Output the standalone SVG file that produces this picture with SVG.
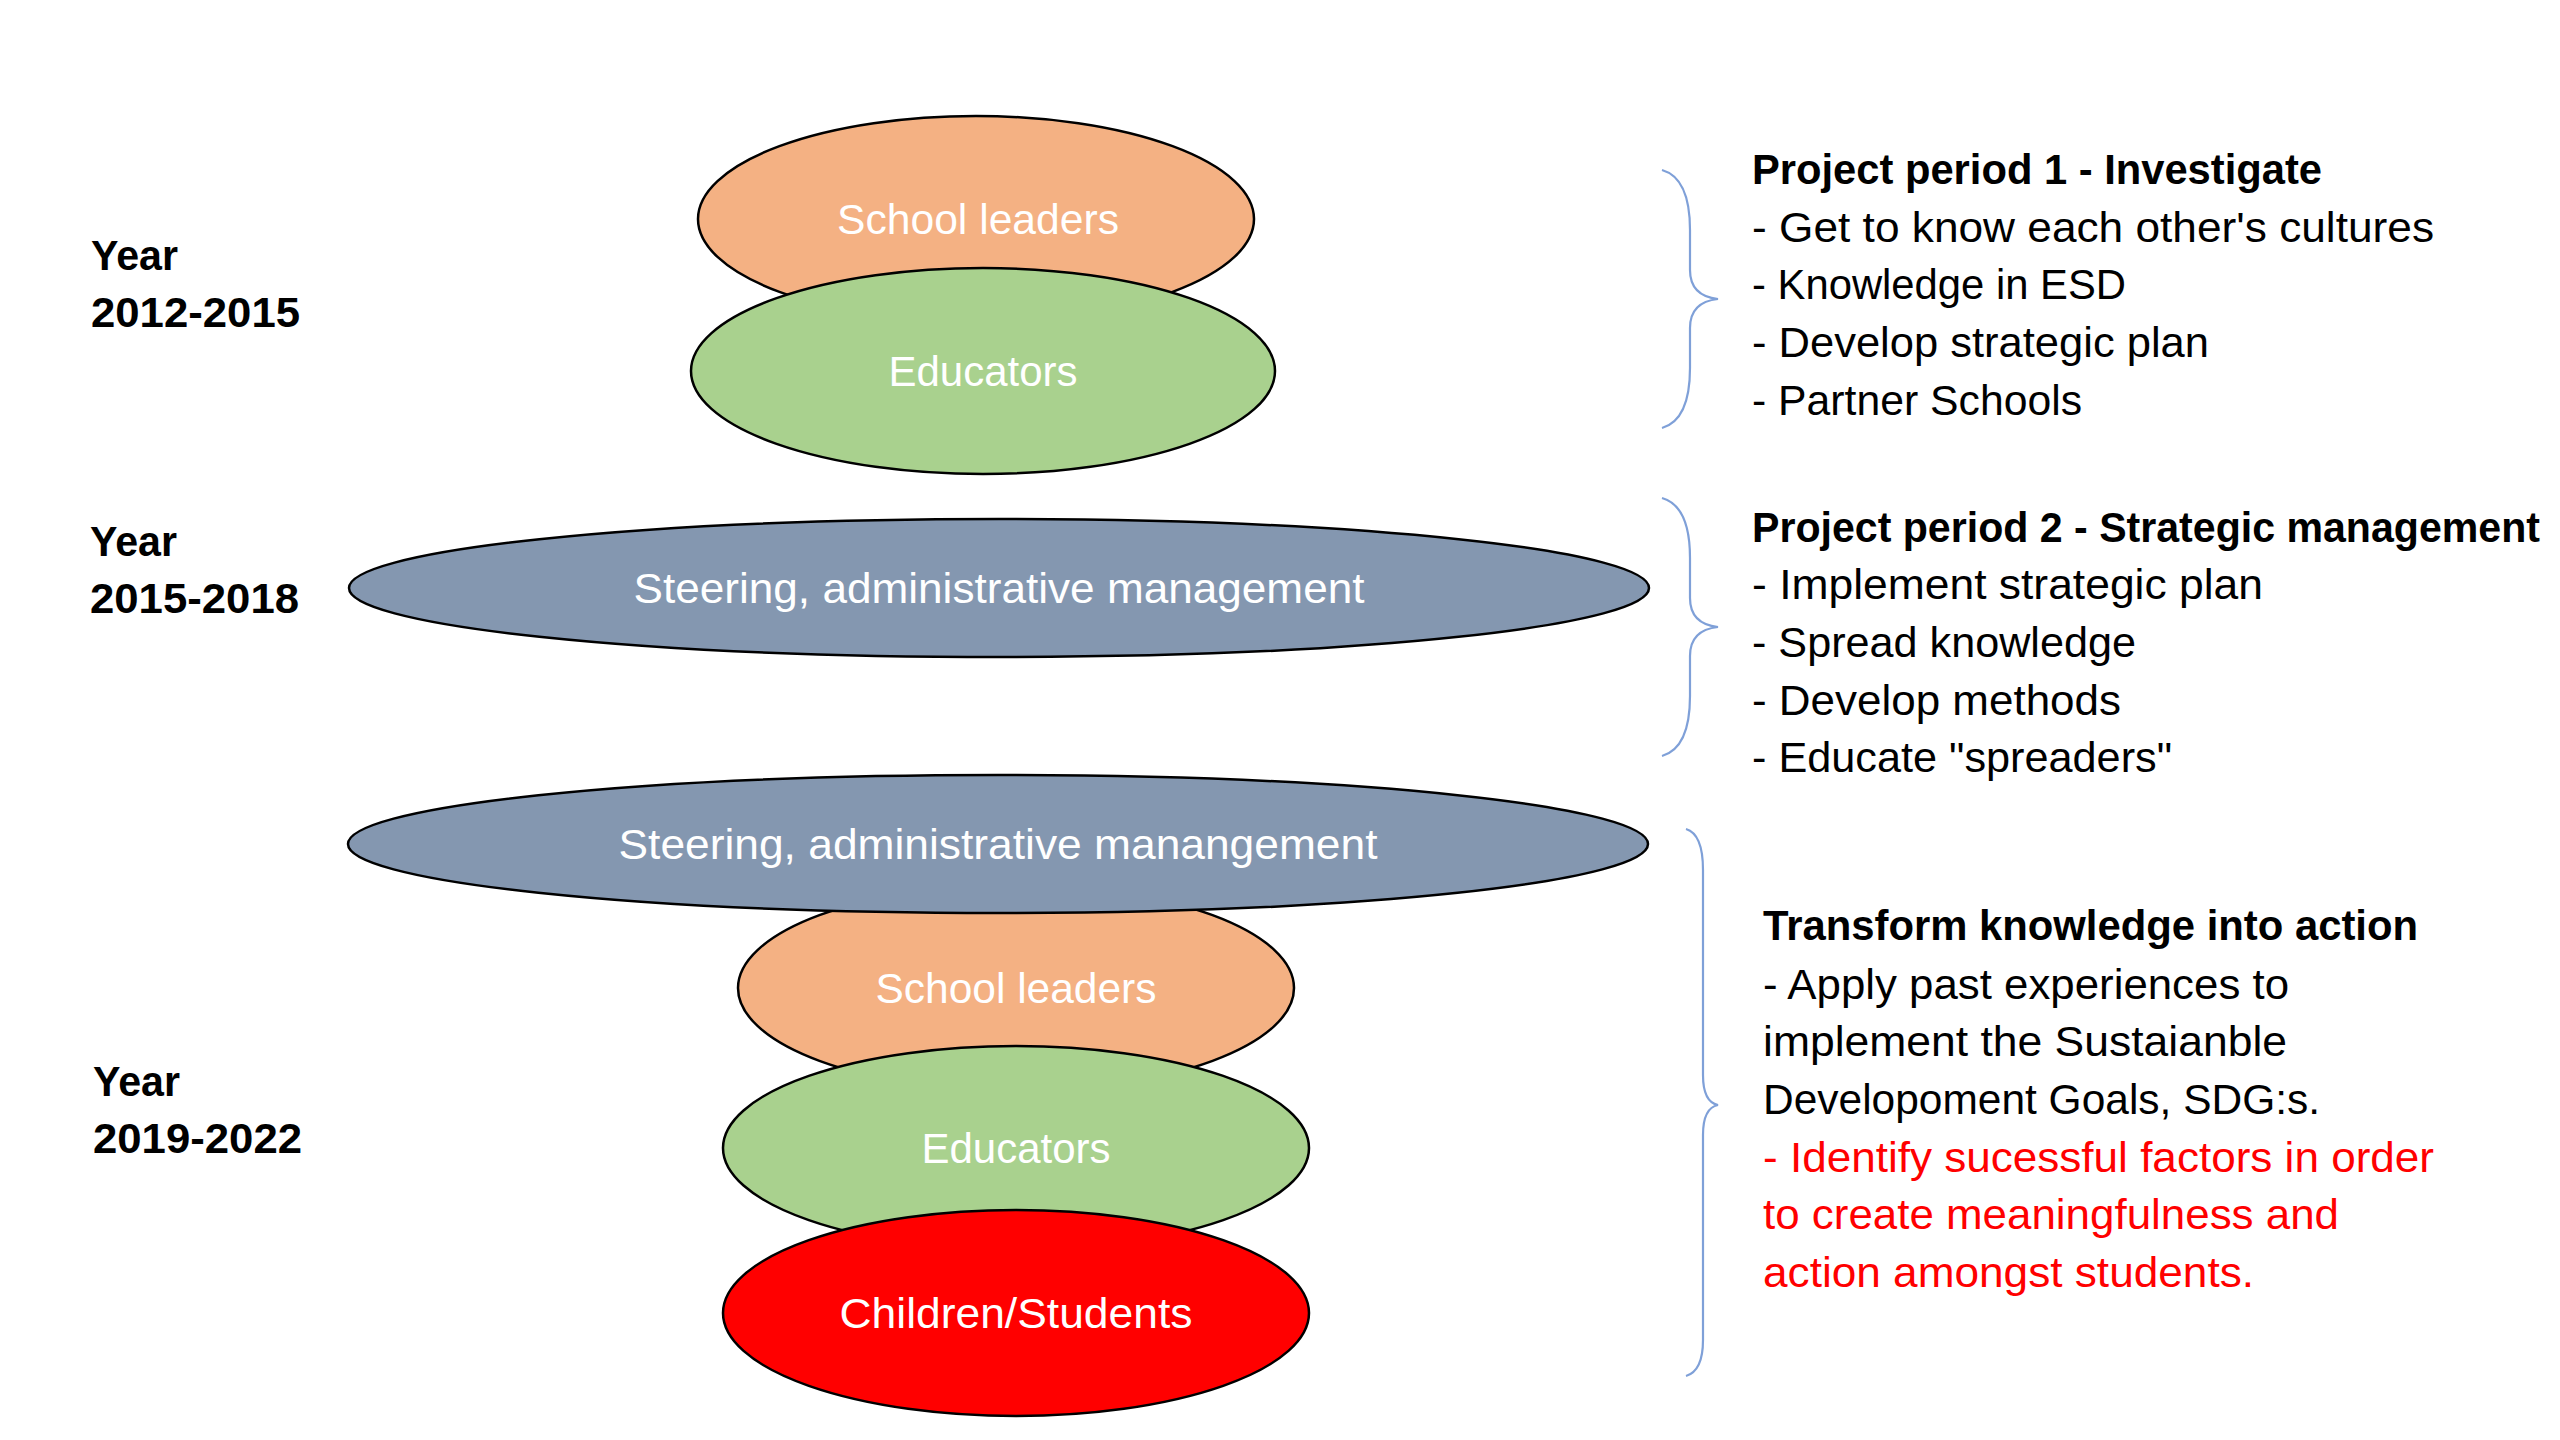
<svg xmlns="http://www.w3.org/2000/svg" width="2560" height="1440" viewBox="0 0 2560 1440">
<style>
text{font-family:"Liberation Sans",Arial,sans-serif;font-size:43px}
.lbl{fill:#ffffff;text-anchor:middle}
.yr{font-weight:bold;fill:#000}
.b{font-weight:bold;fill:#000}
.t{fill:#000}
.r{fill:#ff0000}
.e{stroke:#000;stroke-width:2.5}
.orange{fill:#F4B183}
.green{fill:#A9D18E}
.slate{fill:#8497B0}
.red{fill:#FF0000}
.brace{fill:none;stroke:#7FA0D8;stroke-width:2.2}
</style>
<rect width="2560" height="1440" fill="#fff"/>
<g id="year1"><text class="yr" x="91" y="270" textLength="87" lengthAdjust="spacingAndGlyphs">Year</text><text class="yr" x="91" y="327" textLength="209" lengthAdjust="spacingAndGlyphs">2012-2015</text></g>
<g id="year2"><text class="yr" x="90" y="556" textLength="87" lengthAdjust="spacingAndGlyphs">Year</text><text class="yr" x="90" y="613" textLength="209" lengthAdjust="spacingAndGlyphs">2015-2018</text></g>
<g id="year3"><text class="yr" x="93" y="1096" textLength="87" lengthAdjust="spacingAndGlyphs">Year</text><text class="yr" x="93" y="1153" textLength="209" lengthAdjust="spacingAndGlyphs">2019-2022</text></g>

<g id="school-leaders-1"><ellipse class="e orange" cx="976" cy="219" rx="278" ry="103"/><text class="lbl" x="978" y="234" textLength="282" lengthAdjust="spacingAndGlyphs">School leaders</text></g>
<g id="educators-1"><ellipse class="e green" cx="983" cy="371" rx="292" ry="103"/><text class="lbl" x="983" y="386" textLength="189" lengthAdjust="spacingAndGlyphs">Educators</text></g>
<g id="steering-1"><ellipse class="e slate" cx="999" cy="588" rx="650" ry="69"/><text class="lbl" x="999" y="603" textLength="731" lengthAdjust="spacingAndGlyphs">Steering, administrative management</text></g>
<g id="school-leaders-2"><ellipse class="e orange" cx="1016" cy="988" rx="278" ry="103"/><text class="lbl" x="1016" y="1003" textLength="281" lengthAdjust="spacingAndGlyphs">School leaders</text></g>
<g id="educators-2"><ellipse class="e green" cx="1016" cy="1148" rx="293" ry="102"/><text class="lbl" x="1016" y="1163" textLength="189" lengthAdjust="spacingAndGlyphs">Educators</text></g>
<g id="children"><ellipse class="e red" cx="1016" cy="1313" rx="293" ry="103"/><text class="lbl" x="1016" y="1328" textLength="353" lengthAdjust="spacingAndGlyphs">Children/Students</text></g>
<g id="steering-2"><ellipse class="e slate" cx="998" cy="844" rx="650" ry="69"/><text class="lbl" x="998" y="859" textLength="759" lengthAdjust="spacingAndGlyphs">Steering, administrative manangement</text></g>

<g id="connectors">
<path class="brace" d="M1662,170 Q1690,178 1690,230 L1690,270 Q1690,296 1718,299 Q1690,302 1690,328 L1690,368 Q1690,420 1662,428"/>
<path class="brace" d="M1662,498 Q1690,506 1690,558 L1690,598 Q1690,624 1718,627 Q1690,630 1690,656 L1690,696 Q1690,748 1662,756"/>
<path class="brace" d="M1686,829 Q1703,834 1703,870 L1703,1075 Q1703,1102 1718,1105 Q1703,1108 1703,1135 L1703,1340 Q1703,1371 1686,1376"/>
</g>

<g id="period1">
<text class="b" x="1752" y="184" textLength="570" lengthAdjust="spacingAndGlyphs">Project period 1 - Investigate</text>
<text class="t" x="1752" y="242" textLength="682" lengthAdjust="spacingAndGlyphs">- Get to know each other's cultures</text>
<text class="t" x="1752" y="299" textLength="374" lengthAdjust="spacingAndGlyphs">- Knowledge in ESD</text>
<text class="t" x="1752" y="357" textLength="457" lengthAdjust="spacingAndGlyphs">- Develop strategic plan</text>
<text class="t" x="1752" y="415" textLength="330" lengthAdjust="spacingAndGlyphs">- Partner Schools</text>
</g>
<g id="period2">
<text class="b" x="1752" y="542" textLength="788" lengthAdjust="spacingAndGlyphs">Project period 2 - Strategic management</text>
<text class="t" x="1752" y="599" textLength="511" lengthAdjust="spacingAndGlyphs">- Implement strategic plan</text>
<text class="t" x="1752" y="657" textLength="384" lengthAdjust="spacingAndGlyphs">- Spread knowledge</text>
<text class="t" x="1752" y="715" textLength="369" lengthAdjust="spacingAndGlyphs">- Develop methods</text>
<text class="t" x="1752" y="772" textLength="420" lengthAdjust="spacingAndGlyphs">- Educate "spreaders"</text>
</g>
<g id="period3">
<text class="b" x="1763" y="940" textLength="655" lengthAdjust="spacingAndGlyphs">Transform knowledge into action</text>
<text class="t" x="1763" y="999" textLength="526" lengthAdjust="spacingAndGlyphs">- Apply past experiences to</text>
<text class="t" x="1763" y="1056" textLength="524" lengthAdjust="spacingAndGlyphs">implement the Sustaianble</text>
<text class="t" x="1763" y="1114" textLength="557" lengthAdjust="spacingAndGlyphs">Developoment Goals, SDG:s.</text>
<text class="r" x="1763" y="1172" textLength="671" lengthAdjust="spacingAndGlyphs">- Identify sucessful factors in order</text>
<text class="r" x="1763" y="1229" textLength="576" lengthAdjust="spacingAndGlyphs">to create meaningfulness and</text>
<text class="r" x="1763" y="1287" textLength="491" lengthAdjust="spacingAndGlyphs">action amongst students.</text>
</g>
</svg>
